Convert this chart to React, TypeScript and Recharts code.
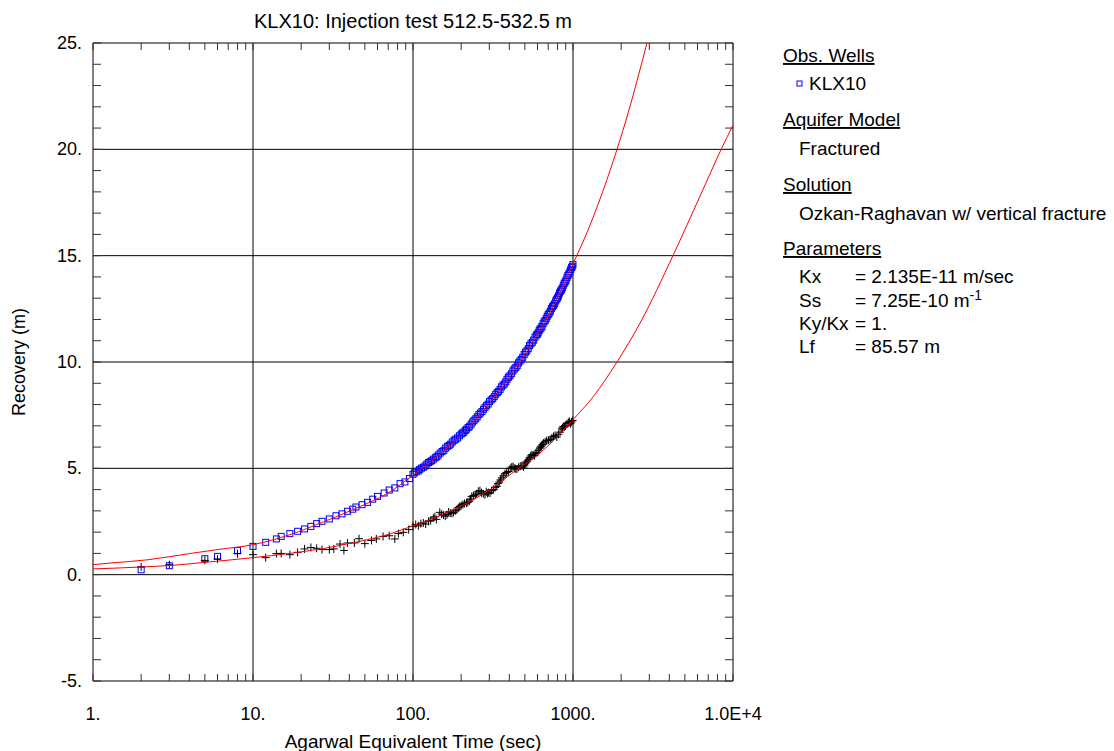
import { ComposedChart, XAxis, YAxis, Scatter, Line, ReferenceLine } from "recharts";

const FONT = '"Liberation Sans", Arial, Helvetica, sans-serif';

// axis ticks (log x, linear y)
const xTicks = [
  1, 2, 3, 4, 5, 6, 7, 8, 9,
  10, 20, 30, 40, 50, 60, 70, 80, 90,
  100, 200, 300, 400, 500, 600, 700, 800, 900,
  1000, 2000, 3000, 4000, 5000, 6000, 7000, 8000, 9000,
  10000,
];
const xTickLabels: Record<number, string> = { 1: "1.", 10: "10.", 100: "100.", 1000: "1000.", 10000: "1.0E+4" };
const yTicks = [-5, -4, -3, -2, -1, 0, 1, 2, 3, 4, 5, 6, 7, 8, 9, 10, 11, 12, 13, 14, 15, 16, 17, 18, 19, 20, 21, 22, 23, 24, 25];
const yTickLabels: Record<number, string> = { "-5": "-5.", 0: "0.", 5: "5.", 10: "10.", 15: "15.", 20: "20.", 25: "25." };
const xGrid = [10, 100, 1000];
const yGrid = [0, 5, 10, 15, 20];

// KLX10 observation (blue squares): [time s, recovery m]
const klxPoints: [number, number][] = [
  [2, 0.23], [3, 0.42], [5, 0.75], [6, 0.86], [8, 1.13], [10, 1.33], [12, 1.52], [14, 1.68], [15, 1.8], [17, 1.93],
  [19, 2.04], [21, 2.15], [23, 2.27], [25, 2.4], [27, 2.51], [30, 2.62], [33, 2.77], [36, 2.86], [39, 2.98], [42, 3.08],
  [44, 3.18], [48, 3.29], [52, 3.4], [56, 3.55], [60, 3.68], [66, 3.84], [71, 3.98], [77, 4.08], [83, 4.28], [89, 4.36],
  [95, 4.52], [100, 4.72], [102, 4.79], [105, 4.84], [108, 4.88], [110, 4.95], [113, 5.01], [116, 5.05], [119, 5.11],
  [122, 5.2], [125, 5.27], [128, 5.31], [131, 5.36], [134, 5.43], [138, 5.5], [141, 5.55], [144, 5.63], [148, 5.72],
  [152, 5.79], [156, 5.85], [160, 5.95], [164, 6.03], [168, 6.08], [172, 6.14], [176, 6.24], [181, 6.32], [185, 6.37],
  [190, 6.43], [195, 6.53], [200, 6.61], [204, 6.66], [208, 6.7], [212, 6.78], [216, 6.84], [221, 6.92], [226, 6.98],
  [231, 7.08], [236, 7.18], [241, 7.26], [247, 7.33], [252, 7.42], [258, 7.53], [264, 7.6], [270, 7.67], [276, 7.78],
  [282, 7.87], [288, 7.95], [295, 8.02], [301, 8.14], [308, 8.22], [315, 8.28], [322, 8.37], [329, 8.48], [336, 8.56],
  [343, 8.62], [350, 8.71], [357, 8.83], [365, 8.91], [372, 8.97], [380, 9.07], [387, 9.19], [395, 9.28], [403, 9.35],
  [412, 9.45], [421, 9.58], [430, 9.67], [439, 9.74], [448, 9.83], [457, 9.96], [466, 10.05], [475, 10.12], [485, 10.22],
  [495, 10.35], [505, 10.46], [515, 10.53], [525, 10.63], [535, 10.77], [546, 10.86], [557, 10.93], [568, 11.03],
  [579, 11.17], [590, 11.27], [598, 11.3], [606, 11.37], [614, 11.47], [622, 11.54], [631, 11.59], [640, 11.67],
  [650, 11.8], [660, 11.89], [670, 11.95], [680, 12.04], [690, 12.15], [700, 12.23], [711, 12.3], [722, 12.39],
  [733, 12.52], [745, 12.6], [756, 12.66], [768, 12.74], [780, 12.87], [791, 12.95], [801, 13.02], [812, 13.11],
  [823, 13.24], [835, 13.33], [846, 13.39], [858, 13.48], [870, 13.61], [882, 13.7], [894, 13.77], [906, 13.86],
  [918, 13.98], [930, 14.07], [942, 14.14], [955, 14.23], [967, 14.35], [980, 14.44], [990, 14.5], [1000, 14.58],
];

// second data set (black crosses): [time s, recovery m]
const crossPoints: [number, number][] = [
  [2, 0.36], [3, 0.47], [5, 0.67], [6, 0.74], [8, 0.99], [10, 0.94], [12, 0.8], [14, 0.99], [15, 1.0], [17, 0.94],
  [19, 1.05], [21, 1.21], [23, 1.28], [25, 1.24], [27, 1.18], [30, 1.18], [32, 1.21], [35, 1.44], [37, 1.14], [39, 1.49],
  [43, 1.49], [46, 1.69], [50, 1.46], [55, 1.61], [59, 1.68], [65, 1.8], [71, 1.83], [77, 1.68], [81, 1.93], [87, 1.99],
  [94, 2.12], [100, 2.27], [104, 2.36], [108, 2.3], [112, 2.4], [116, 2.43], [120, 2.38], [125, 2.51], [129, 2.55],
  [134, 2.66], [137, 2.72], [140, 2.6], [147, 2.93], [151, 2.85], [155, 2.8], [159, 2.75], [163, 2.82], [167, 2.95],
  [171, 2.9], [175, 2.88], [179, 2.93], [184, 3.0], [188, 3.05], [192, 3.15], [196, 3.21], [200, 3.25], [205, 3.3],
  [210, 3.35], [216, 3.37], [220, 3.4], [225, 3.45], [229, 3.55], [233, 3.68], [239, 3.72], [245, 3.75], [250, 3.8],
  [256, 3.92], [262, 3.95], [268, 3.85], [275, 3.8], [282, 3.76], [287, 3.9], [292, 3.82], [297, 3.86], [303, 3.84],
  [310, 3.95], [318, 4.0], [326, 4.1], [334, 4.15], [340, 4.28], [346, 4.35], [352, 4.45], [359, 4.55], [367, 4.65],
  [376, 4.75], [385, 4.8], [395, 4.85], [405, 5.0], [414, 5.06], [422, 5.08], [430, 5.0], [438, 4.98], [446, 4.97],
  [457, 5.05], [468, 5.1], [479, 5.12], [490, 5.06], [498, 5.15], [505, 5.25], [512, 5.3], [520, 5.35], [528, 5.42],
  [536, 5.5], [544, 5.58], [553, 5.64], [564, 5.62], [575, 5.6], [585, 5.7], [595, 5.75], [607, 5.85], [620, 5.95],
  [627, 6.0], [635, 6.05], [645, 6.12], [655, 6.19], [670, 6.25], [685, 6.3], [702, 6.32], [720, 6.35], [738, 6.42],
  [755, 6.5], [773, 6.55], [792, 6.47], [811, 6.6], [830, 6.7], [850, 6.85], [860, 6.9], [870, 6.97], [885, 6.95],
  [900, 7.0], [918, 7.1], [935, 7.16], [950, 7.2], [965, 7.1], [980, 7.18], [995, 7.25],
];

// fitted type curves (red)
const fitUpperTime = [1, 1.3, 2.2, 4, 6, 10, 17, 27.5, 44, 72, 100, 134, 170, 216, 270, 350, 466, 622, 791, 1000, 1155, 1334, 1540, 1884, 2212, 2550, 2900];
const fitUpperRecovery = [0.47, 0.55, 0.7, 0.99, 1.18, 1.41, 1.88, 2.48, 3.12, 3.9, 4.68, 5.41, 6.08, 6.82, 7.66, 8.7, 10.03, 11.52, 12.93, 14.62, 15.65, 16.79, 18.05, 20.0, 21.72, 23.4, 25.0];
const fitLowerTime = [1, 2, 3, 5, 10, 17, 27.5, 44, 72, 100, 170, 303, 446, 622, 1000, 1341, 1876, 2624, 4237, 6223, 8497, 10000];
const fitLowerRecovery = [0.27, 0.36, 0.43, 0.58, 0.8, 1.0, 1.23, 1.53, 1.92, 2.3, 2.98, 4.0, 4.94, 5.72, 7.29, 8.38, 9.98, 11.83, 15.04, 17.8, 20.05, 21.14];

const zip = (ts: number[], vs: number[]) => ts.map((t, i) => ({ t, v: vs[i] }));
const fromPairs = (pts: [number, number][]) => pts.map(([t, v]) => ({ t, v }));

const klxData = fromPairs(klxPoints);
const crossData = fromPairs(crossPoints);
const fitUpper = zip(fitUpperTime, fitUpperRecovery);
const fitLower = zip(fitLowerTime, fitLowerRecovery);

const TICK = "#333";

function BottomTick({ x, y, payload }: any) {
  const label = xTickLabels[payload.value];
  return (
    <g>
      <line x1={x} y1={y} x2={x} y2={y - 7} stroke={TICK} />
      {label && (
        <text x={x} y={y + 39} textAnchor="middle" fontSize={18} fontFamily={FONT} fill="#000">
          {label}
        </text>
      )}
    </g>
  );
}

function TopTick({ x, y }: any) {
  return <line x1={x} y1={y} x2={x} y2={y + 7} stroke={TICK} />;
}

function LeftTick({ x, y, payload }: any) {
  const label = yTickLabels[payload.value];
  return (
    <g>
      <line x1={x} y1={y} x2={x + 8} y2={y} stroke={TICK} />
      {label && (
        <text x={x - 11} y={y + 6} textAnchor="end" fontSize={18} fontFamily={FONT} fill="#000">
          {label}
        </text>
      )}
    </g>
  );
}

function RightTick({ x, y }: any) {
  return <line x1={x} y1={y} x2={x - 8} y2={y} stroke={TICK} />;
}

const Square = (p: any) => (
  <rect x={p.cx - 3} y={p.cy - 3} width={6} height={6} fill="none" stroke="#0000ff" strokeWidth={1} />
);

const Cross = (p: any) => (
  <path d={`M${p.cx - 4},${p.cy}H${p.cx + 4}M${p.cx},${p.cy - 4}V${p.cy + 4}`} stroke="#000" strokeWidth={1} fill="none" />
);

export default function App() {
  return (
    <div style={{ position: "absolute", left: 0, top: 0, width: 1114, height: 751, background: "#fff" }}>
      <ComposedChart width={1114} height={751} margin={{ top: 42, right: 380, bottom: 0, left: 0 }}>
        <XAxis
          xAxisId="b"
          dataKey="t"
          type="number"
          scale="log"
          domain={[1, 10000]}
          allowDataOverflow
          ticks={xTicks}
          interval={0}
          height={70}
          tickSize={0}
          tickMargin={0}
          tick={<BottomTick />}
          axisLine={{ stroke: "#000" }}
          tickLine={false}
        />
        <XAxis
          xAxisId="t"
          orientation="top"
          dataKey="t"
          type="number"
          scale="log"
          domain={[1, 10000]}
          allowDataOverflow
          ticks={xTicks}
          interval={0}
          height={1}
          tickSize={0}
          tickMargin={0}
          tick={<TopTick />}
          axisLine={{ stroke: "#000" }}
          tickLine={false}
        />
        <YAxis
          yAxisId="l"
          type="number"
          domain={[-5, 25]}
          allowDataOverflow
          ticks={yTicks}
          interval={0}
          width={93}
          tickSize={0}
          tickMargin={0}
          tick={<LeftTick />}
          axisLine={{ stroke: "#000" }}
          tickLine={false}
        />
        <YAxis
          yAxisId="r"
          orientation="right"
          type="number"
          domain={[-5, 25]}
          allowDataOverflow
          ticks={yTicks}
          interval={0}
          width={1}
          tickSize={0}
          tickMargin={0}
          tick={<RightTick />}
          axisLine={{ stroke: "#000" }}
          tickLine={false}
        />
        {xGrid.map((g) => (
          <ReferenceLine key={"x" + g} x={g} xAxisId="b" yAxisId="l" stroke="#000" strokeWidth={1} />
        ))}
        {yGrid.map((g) => (
          <ReferenceLine key={"y" + g} y={g} xAxisId="b" yAxisId="l" stroke="#000" strokeWidth={1} />
        ))}
        <Scatter data={klxData} dataKey="v" xAxisId="b" yAxisId="l" shape={Square} isAnimationActive={false} />
        <Scatter data={crossData} dataKey="v" xAxisId="b" yAxisId="l" shape={Cross} isAnimationActive={false} />
        <Line data={fitUpper} dataKey="v" xAxisId="b" yAxisId="l" type="monotone" stroke="#ff0000" strokeWidth={1} dot={false} activeDot={false} isAnimationActive={false} zIndex={700} />
        <Line data={fitLower} dataKey="v" xAxisId="b" yAxisId="l" type="monotone" stroke="#ff0000" strokeWidth={1} dot={false} activeDot={false} isAnimationActive={false} zIndex={700} />
      </ComposedChart>

      <svg width={1114} height={751} style={{ position: "absolute", left: 0, top: 0, pointerEvents: "none" }} fontFamily={FONT}>
        <text x={413} y={28} textAnchor="middle" fontSize={20} fill="#000">KLX10: Injection test 512.5-532.5 m</text>
        <text x={413} y={748} textAnchor="middle" fontSize={19} fill="#000">Agarwal Equivalent Time (sec)</text>
        <text transform="translate(25,362) rotate(-90)" textAnchor="middle" fontSize={18} fill="#000">Recovery (m)</text>

        <g fontSize={19} fill="#000">
          <text x={783} y={62} textDecoration="underline">Obs. Wells</text>
          <rect x={797} y={81} width={5} height={5} fill="none" stroke="#0000ff" strokeWidth={1} />
          <text x={809} y={90}>KLX10</text>
          <text x={783} y={126} textDecoration="underline">Aquifer Model</text>
          <text x={799} y={155}>Fractured</text>
          <text x={783} y={191} textDecoration="underline">Solution</text>
          <text x={799} y={220}>Ozkan-Raghavan w/ vertical fracture</text>
          <text x={783} y={255} textDecoration="underline">Parameters</text>
          <text x={799} y={283}>Kx</text>
          <text x={855} y={283}>= 2.135E-11 m/sec</text>
          <text x={799} y={306.5}>Ss</text>
          <text x={855} y={306.5}>
            = 7.25E-10 m<tspan dy={-7} fontSize={14}>-1</tspan>
          </text>
          <text x={799} y={330}>Ky/Kx</text>
          <text x={855} y={330}>= 1.</text>
          <text x={799} y={353}>Lf</text>
          <text x={855} y={353}>= 85.57 m</text>
        </g>
      </svg>
    </div>
  );
}
